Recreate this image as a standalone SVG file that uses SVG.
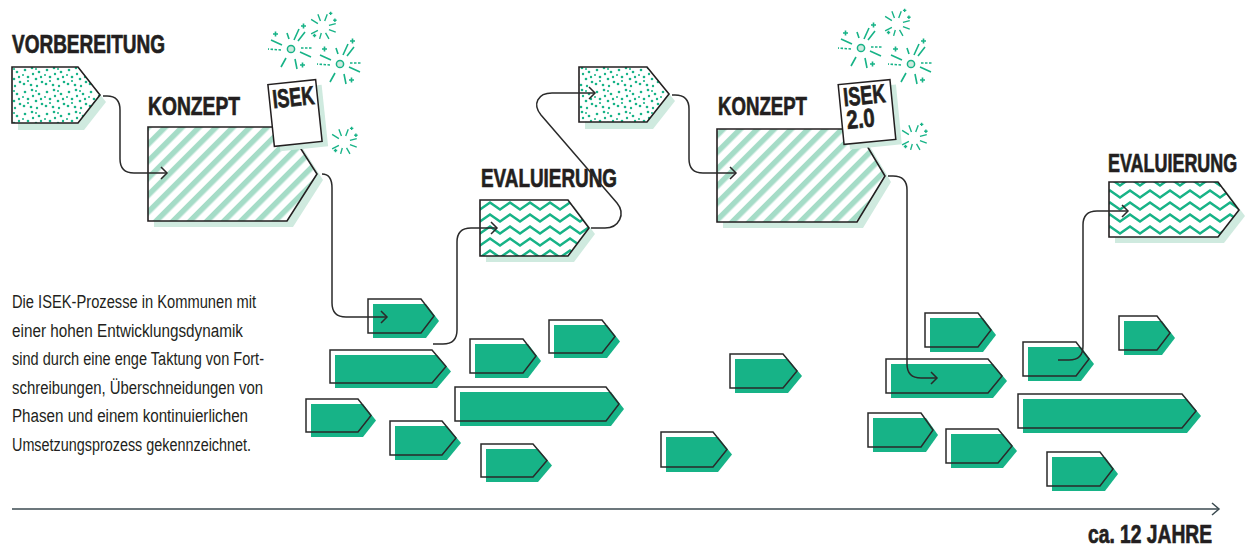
<svg xmlns="http://www.w3.org/2000/svg" xmlns:xlink="http://www.w3.org/1999/xlink" width="1257" height="549" viewBox="0 0 1257 549">
<style>
.sh{fill:#cfeadf}
.box{stroke:#231f20;stroke-width:1.6;stroke-linejoin:miter}
.bf{fill:#17b387}
.bo{fill:none;stroke:#2a2a2a;stroke-width:1.5}
.con{fill:none;stroke:#2a2a2a;stroke-width:1.5;marker-end:url(#arr)}
.hd{font-family:"Liberation Sans",Arial,sans-serif;font-weight:bold;font-size:26px;fill:#231f20;stroke:#231f20;stroke-width:0.7}
.tx{font-family:"Liberation Sans",Arial,sans-serif;font-size:18px;fill:#231f20}
.fw{fill:none;stroke:#17b387;stroke-width:1.6}
.doc{fill:#fff;stroke:#231f20;stroke-width:1.5}
</style>
<defs>
<marker id="arr" markerUnits="userSpaceOnUse" markerWidth="14" markerHeight="14" refX="7" refY="7" orient="auto" overflow="visible">
<path d="M1,1 L7,7 L1,13" fill="none" stroke="#2a2a2a" stroke-width="1.5"/>
</marker>
<pattern id="dots" width="22" height="22" patternUnits="userSpaceOnUse">
<rect width="22" height="22" fill="#fff"/>
<g fill="#17b387">
<circle cx="3" cy="4" r="1.3"/><circle cx="10" cy="2" r="1.3"/><circle cx="17" cy="6" r="1.3"/>
<circle cx="6" cy="11" r="1.3"/><circle cx="14" cy="13" r="1.3"/><circle cx="20" cy="16" r="1.3"/>
<circle cx="2" cy="18" r="1.3"/><circle cx="9" cy="19" r="1.3"/><circle cx="11" cy="8" r="1.2"/>
<circle cx="19" cy="11" r="1.2"/><circle cx="15" cy="20" r="1.2"/><circle cx="6" cy="15" r="1.1"/>
<circle cx="14" cy="3" r="1"/><circle cx="1" cy="9" r="1"/>
</g>
</pattern>
<pattern id="stripes" width="12" height="12" patternUnits="userSpaceOnUse" patternTransform="rotate(45)">
<rect width="12" height="12" fill="#fff"/>
<rect width="5.5" height="12" fill="#a5dcc7"/>
</pattern>
<pattern id="zig" width="20" height="12" patternUnits="userSpaceOnUse" x="480" y="200">
<rect width="20" height="12" fill="#fff"/>
<path d="M-10,2.5 L0,9.5 L10,2.5 L20,9.5 L30,2.5" fill="none" stroke="#17b387" stroke-width="2.5"/>
</pattern>
<g id="burst">
<circle r="3.6" fill="#cfeadf" stroke="#17b387" stroke-width="1.5"/>
<path class="fw" d="M-9,-4 L-20,-9 M-5,9 L-10,18 M4,10 L6,20 M3,-9 L8,-20 M7,-8 L14,-17 M9,3 L20,8 M-2,-10 L-4,-16"/>
<path class="fw" d="M-10,1 L-23,0 M10,-1 L22,-1" stroke-dasharray="2.5 1.5"/>
<path class="fw" stroke-width="1.4" d="M-18,-15 h5 M-15.5,-17.5 v5 M10,-23 h5 M12.5,-25.5 v5 M9,16 h5 M11.5,13.5 v5"/>
</g>
<g id="spark">
<path class="fw" d="M-6,-4 L-14,-9 M-3,-7 L-6,-15 M2,-7 L5,-15 M7,-2 L15,-4 M7,3 L15,6 M-6,4 L-14,8 M-2,7 L-4,14 M3,7 L7,14"/>
<path class="fw" stroke-width="1.3" d="M-12,10 h4 M-10,8 v4 M7,-16 h4 M9,-18 v4 M12,-8 h4 M14,-10 v4"/>
</g>
</defs>

<rect width="1257" height="549" fill="#fff"/>

<!-- phase nodes -->
<g id="vorbereitung1">
<path class="sh" d="M18,74 H84 L106,102 L84,130 H18 Z"/>
<path class="box" fill="url(#dots)" d="M12,67 H78 L100,95 L78,123 H12 Z"/>
<text class="hd" x="12" y="53" textLength="153" lengthAdjust="spacingAndGlyphs">VORBEREITUNG</text>
</g>

<g id="konzept1">
<path class="sh" d="M154,133 H293 L323,180 L293,227 H154 Z"/>
<path class="box" fill="url(#stripes)" d="M148,127 H287 L317,174 L287,221 H148 Z"/>
<text class="hd" x="148" y="115" textLength="92" lengthAdjust="spacingAndGlyphs">KONZEPT</text>
</g>

<g id="isek1">
<g transform="translate(301,118) rotate(-6)"><rect class="sh" x="-24" y="-31" width="48" height="62"/></g>
<g transform="translate(295,113) rotate(-6)">
<rect class="doc" x="-24" y="-31" width="48" height="62"/>
<text class="hd" x="-21" y="-7" font-size="26" textLength="42" lengthAdjust="spacingAndGlyphs">ISEK</text>
</g>
</g>

<g id="fireworks1">
<use xlink:href="#burst" href="#burst" transform="translate(291,49)"/>
<use xlink:href="#burst" href="#burst" transform="translate(340,64)"/>
<use xlink:href="#spark" href="#spark" transform="translate(323,27) scale(0.85)"/>
<use xlink:href="#spark" href="#spark" transform="translate(344,142) scale(0.85)"/>
</g>

<g id="evaluierung1">
<path class="sh" d="M486,206 H574 L595,234 L574,262 H486 Z"/>
<path class="box" fill="url(#zig)" d="M480,200 H568 L589,228 L568,256 H480 Z"/>
<text class="hd" x="481" y="187" textLength="136" lengthAdjust="spacingAndGlyphs">EVALUIERUNG</text>
</g>

<g id="vorbereitung2">
<path class="sh" d="M585,74 H653 L675,101 L653,129 H585 Z"/>
<path class="box" fill="url(#dots)" d="M579,67 H647 L669,94 L647,122 H579 Z"/>
</g>

<g id="konzept2">
<path class="sh" d="M723,135 H863 L891,182 L863,228 H723 Z"/>
<path class="box" fill="url(#stripes)" d="M717,129 H857 L885,176 L857,222 H717 Z"/>
<text class="hd" x="718" y="115" textLength="89" lengthAdjust="spacingAndGlyphs">KONZEPT</text>
</g>

<g id="isek2">
<g transform="translate(873,117) rotate(-5.6)"><rect class="sh" x="-26" y="-30" width="52" height="60"/></g>
<g transform="translate(867,112) rotate(-5.6)">
<rect class="doc" x="-26" y="-30" width="52" height="60"/>
<text class="hd" x="-22" y="-8" font-size="25" textLength="42" lengthAdjust="spacingAndGlyphs">ISEK</text>
<text class="hd" x="-21" y="15" font-size="25" textLength="28" lengthAdjust="spacingAndGlyphs">2.0</text>
</g>
</g>

<g id="fireworks2">
<use xlink:href="#burst" href="#burst" transform="translate(861,48)"/>
<use xlink:href="#burst" href="#burst" transform="translate(911,64)"/>
<use xlink:href="#spark" href="#spark" transform="translate(897,24) scale(0.85)"/>
<use xlink:href="#spark" href="#spark" transform="translate(914,138) scale(0.85)"/>
</g>

<g id="evaluierung2">
<path class="sh" d="M1115,188 H1224 L1245,216 L1224,243 H1115 Z"/>
<path class="box" fill="url(#zig)" d="M1109,182 H1218 L1239,210 L1218,237 H1109 Z"/>
<text class="hd" transform="translate(1108,172) scale(0.69,1)" x="0" y="0">EVALUIERUNG</text>
</g>

<!-- implementation bars -->
<g id="bar1"><path class="bf" d="M373,304 H426 L439,321 L426,338 H373 Z"/><path class="bo" d="M368,299 H421 L434,316 L421,333 H368 Z"/></g>
<g id="bar2"><path class="bf" d="M335,355 H437 L451,371.5 L437,388 H335 Z"/><path class="bo" d="M330,350 H432 L446,366.5 L432,383 H330 Z"/></g>
<g id="bar3"><path class="bf" d="M475,344 H528 L541,361 L528,378 H475 Z"/><path class="bo" d="M470,339 H523 L536,356 L523,373 H470 Z"/></g>
<g id="bar4"><path class="bf" d="M554,325 H607 L620,341.5 L607,358 H554 Z"/><path class="bo" d="M549,320 H602 L615,336.5 L602,353 H549 Z"/></g>
<g id="bar5"><path class="bf" d="M311,404 H363 L376,420.5 L363,437 H311 Z"/><path class="bo" d="M306,399 H358 L371,415.5 L358,432 H306 Z"/></g>
<g id="bar6"><path class="bf" d="M460,392 H611 L624,409 L611,426 H460 Z"/><path class="bo" d="M455,387 H606 L619,404 L606,421 H455 Z"/></g>
<g id="bar7"><path class="bf" d="M395,426 H447 L461,443 L447,460 H395 Z"/><path class="bo" d="M390,421 H442 L456,438 L442,455 H390 Z"/></g>
<g id="bar8"><path class="bf" d="M486,449 H538 L552,465.5 L538,482 H486 Z"/><path class="bo" d="M481,444 H533 L547,460.5 L533,477 H481 Z"/></g>
<g id="bar9"><path class="bf" d="M735,359 H788 L802,376 L788,393 H735 Z"/><path class="bo" d="M730,354 H783 L797,371 L783,388 H730 Z"/></g>
<g id="bar10"><path class="bf" d="M666,437 H718 L732,454.5 L718,472 H666 Z"/><path class="bo" d="M661,432 H713 L727,449.5 L713,467 H661 Z"/></g>
<g id="bar11"><path class="bf" d="M930,318 H983 L996,335 L983,352 H930 Z"/><path class="bo" d="M925,313 H978 L991,330 L978,347 H925 Z"/></g>
<g id="bar12"><path class="bf" d="M891,364 H993 L1007,381 L993,398 H891 Z"/><path class="bo" d="M886,359 H988 L1002,376 L988,393 H886 Z"/></g>
<g id="bar13"><path class="bf" d="M1028,347 H1081 L1094,364 L1081,381 H1028 Z"/><path class="bo" d="M1023,342 H1076 L1089,359 L1076,376 H1023 Z"/></g>
<g id="bar14"><path class="bf" d="M1124,321 H1162 L1175,338 L1162,355 H1124 Z"/><path class="bo" d="M1119,316 H1157 L1170,333 L1157,350 H1119 Z"/></g>
<g id="bar15"><path class="bf" d="M1023,399 H1187 L1201,416 L1187,433 H1023 Z"/><path class="bo" d="M1018,394 H1182 L1196,411 L1182,428 H1018 Z"/></g>
<g id="bar16"><path class="bf" d="M873,418 H926 L938,435 L926,452 H873 Z"/><path class="bo" d="M868,413 H921 L933,430 L921,447 H868 Z"/></g>
<g id="bar17"><path class="bf" d="M951,434 H1003 L1017,451 L1003,468 H951 Z"/><path class="bo" d="M946,429 H998 L1012,446 L998,463 H946 Z"/></g>
<g id="bar18"><path class="bf" d="M1052,457 H1105 L1118,474 L1105,491 H1052 Z"/><path class="bo" d="M1047,452 H1100 L1113,469 L1100,486 H1047 Z"/></g>

<!-- description -->
<g id="description">
<text class="tx" x="12" y="308" textLength="244" lengthAdjust="spacingAndGlyphs">Die ISEK-Prozesse in Kommunen mit</text>
<text class="tx" x="12" y="336.5" textLength="231" lengthAdjust="spacingAndGlyphs">einer hohen Entwicklungsdynamik</text>
<text class="tx" x="12" y="365" textLength="252" lengthAdjust="spacingAndGlyphs">sind durch eine enge Taktung von Fort-</text>
<text class="tx" x="12" y="393.5" textLength="251" lengthAdjust="spacingAndGlyphs">schreibungen, Überschneidungen von</text>
<text class="tx" x="12" y="422" textLength="236" lengthAdjust="spacingAndGlyphs">Phasen und einem kontinuierlichen</text>
<text class="tx" x="12" y="450.5" textLength="239" lengthAdjust="spacingAndGlyphs">Umsetzungsprozess gekennzeichnet.</text>
</g>

<!-- time axis -->
<g id="axis">
<line x1="12" y1="509" x2="1218" y2="509" stroke="#3b4a50" stroke-width="1.6"/>
<path d="M1212,503 L1219,509 L1212,515" fill="none" stroke="#3b4a50" stroke-width="1.5"/>
<text class="hd" x="1212" y="543" text-anchor="end" font-size="22" textLength="124" lengthAdjust="spacingAndGlyphs">ca. 12 JAHRE</text>
</g>

<!-- connectors -->
<g id="connectors">
<path class="con" d="M103,96 H107 Q120,96 120,110 V159 Q120,173 134,173 H167"/>
<path class="con" d="M322,174 Q332,174 332,188 V303 Q332,317 346,317 H387"/>
<path class="con" d="M433,344 H443 Q457,344 457,330 V242 Q457,228 471,228 H497"/>
<path class="con" d="M591,228 H605 C619,228 626,214 617,203 L541,115 C532,104 538,93 552,93 H595"/>
<path class="con" d="M672,95 H675 Q689,95 689,109 V159 Q689,173 703,173 H736"/>
<path class="con" d="M888,176 H893 Q907,176 907,190 V364 Q907,378 921,378 H937"/>
<path class="con" d="M1058,360 H1069 Q1083,360 1083,346 V225 Q1083,211 1097,211 H1128"/>
</g>
</svg>
